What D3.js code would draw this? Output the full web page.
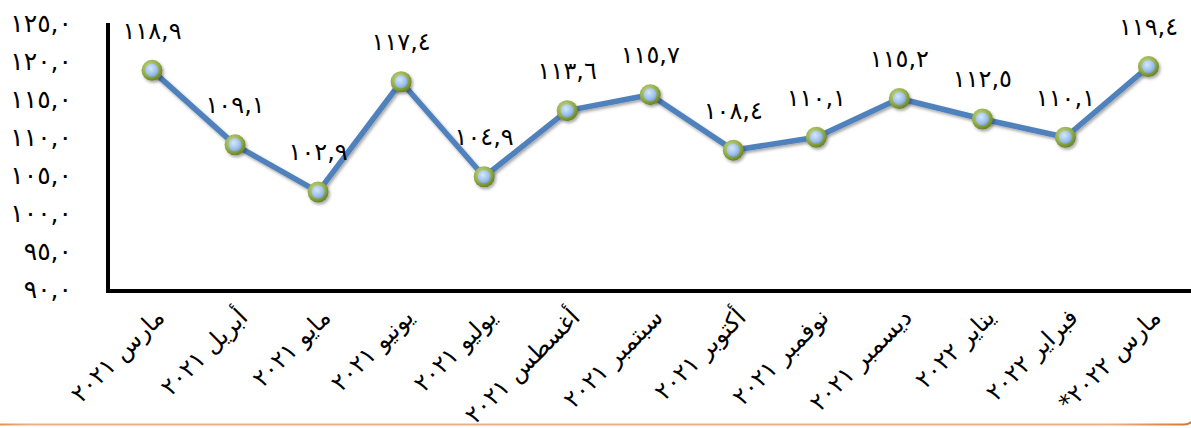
<!DOCTYPE html>
<html>
<head>
<meta charset="utf-8">
<script src="https://cdn.jsdelivr.net/npm/d3@7"></script>
<style>
  html, body { margin: 0; padding: 0; background: #fff; }
  svg { display: block; }
  text { font-family: "DejaVu Sans", sans-serif; fill: #000; }
</style>
</head>
<body>
<svg id="chart" width="1191" height="428"></svg>
<script>
const categories = ["مارس ٢٠٢١", "أبريل ٢٠٢١", "مايو ٢٠٢١", "يونيو ٢٠٢١", "يوليو ٢٠٢١", "أغسطس ٢٠٢١", "سبتمبر ٢٠٢١", "أكتوبر ٢٠٢١", "نوفمبر ٢٠٢١", "ديسمبر ٢٠٢١", "يناير ٢٠٢٢", "فبراير ٢٠٢٢", "مارس ٢٠٢٢*"];
const values = [118.9, 109.1, 102.9, 117.4, 104.9, 113.6, 115.7, 108.4, 110.1, 115.2, 112.5, 110.1, 119.4];
const valueLabels = ["١١٨,٩", "١٠٩,١", "١٠٢,٩", "١١٧,٤", "١٠٤,٩", "١١٣,٦", "١١٥,٧", "١٠٨,٤", "١١٠,١", "١١٥,٢", "١١٢,٥", "١١٠,١", "١١٩,٤"];
const yTicks = [90, 95, 100, 105, 110, 115, 120, 125];
const yTickLabels = ["٩٠,٠", "٩٥,٠", "١٠٠,٠", "١٠٥,٠", "١١٠,٠", "١١٥,٠", "١٢٠,٠", "١٢٥,٠"];

const svg = d3.select("#chart");
const W = 1191, H = 428;
const axisX = 108, axisY = 291;

const x = d3.scalePoint().domain(categories).range([110.5, 1190]).padding(0.5);
const y = d3.scaleLinear().domain([90, 125]).range([290, 24]);

const defs = svg.append("defs");
const shadow = defs.append("filter").attr("id", "shadow").attr("x", "-50%").attr("y", "-50%").attr("width", "200%").attr("height", "200%");
shadow.append("feDropShadow").attr("dx", 1.5).attr("dy", 2).attr("stdDeviation", 1.6).attr("flood-color", "#000").attr("flood-opacity", 0.35);

const ringGrad = defs.append("radialGradient").attr("id", "ring").attr("cx", "40%").attr("cy", "35%").attr("r", "70%");
ringGrad.append("stop").attr("offset", "0%").attr("stop-color", "#c5d98a");
ringGrad.append("stop").attr("offset", "60%").attr("stop-color", "#93ad4a");
ringGrad.append("stop").attr("offset", "100%").attr("stop-color", "#5f7a22");

const coreGrad = defs.append("radialGradient").attr("id", "core").attr("cx", "40%").attr("cy", "35%").attr("r", "75%");
coreGrad.append("stop").attr("offset", "0%").attr("stop-color", "#d6e6fb");
coreGrad.append("stop").attr("offset", "60%").attr("stop-color", "#9fc2ee");
coreGrad.append("stop").attr("offset", "100%").attr("stop-color", "#6f9bd6");

const borderGrad = defs.append("linearGradient").attr("id", "border").attr("x1", "0").attr("x2", "1");
borderGrad.append("stop").attr("offset", "0%").attr("stop-color", "#e07a2a");
borderGrad.append("stop").attr("offset", "4%").attr("stop-color", "#eab08a");
borderGrad.append("stop").attr("offset", "93%").attr("stop-color", "#eab08a");
borderGrad.append("stop").attr("offset", "100%").attr("stop-color", "#d8701e");

svg.append("rect").attr("width", W).attr("height", H).attr("fill", "#fff");

// chart area border (only bottom / bottom-right corner visible)
svg.append("rect")
  .attr("x", -20).attr("y", -20).attr("width", W + 25).attr("height", H + 16.5)
  .attr("rx", 12).attr("fill", "none")
  .attr("stroke", "url(#border)").attr("stroke-width", 2);

// Y axis
const yAxis = d3.axisLeft(y).tickValues(yTicks).tickSize(0).tickPadding(36)
  .tickFormat((d, i) => yTickLabels[i]);
const gy = svg.append("g").attr("transform", `translate(${axisX},0)`).call(yAxis);
gy.select(".domain").remove();
gy.selectAll("text").attr("font-size", 25).attr("dy", "0.3em");

// X axis
const xAxis = d3.axisBottom(x).tickSize(0).tickFormat("");
const gx = svg.append("g").attr("transform", `translate(0,${axisY})`).call(xAxis);
gx.select(".domain").remove();

svg.append("line").attr("x1", axisX).attr("x2", axisX).attr("y1", 23).attr("y2", axisY + 2)
  .attr("stroke", "#000").attr("stroke-width", 4);
svg.append("line").attr("x1", axisX - 2).attr("x2", W).attr("y1", axisY).attr("y2", axisY)
  .attr("stroke", "#000").attr("stroke-width", 4);

// X labels
svg.append("g").selectAll("text").data(categories).join("text")
  .attr("transform", d => `translate(${x(d) + 2},${axisY + 16}) rotate(-45)`)
  .attr("direction", "rtl")
  .attr("text-anchor", "start")
  .attr("font-size", 24)
  .attr("dy", "0.7em")
  .text(d => d);

// line
const line = d3.line().x((d, i) => x(categories[i])).y(d => y(d));
svg.append("path").datum(values)
  .attr("d", line).attr("fill", "none")
  .attr("stroke", "#4f81bd").attr("stroke-width", 5.5)
  .attr("stroke-linejoin", "round")
  .attr("filter", "url(#shadow)");

// markers
const mk = svg.append("g").selectAll("g").data(values).join("g")
  .attr("transform", (d, i) => `translate(${x(categories[i])},${y(d)})`)
  .attr("filter", "url(#shadow)");
mk.append("circle").attr("r", 10.5).attr("fill", "url(#ring)");
mk.append("circle").attr("r", 6.5).attr("fill", "url(#core)");

// value labels
svg.append("g").selectAll("text").data(values).join("text")
  .attr("x", (d, i) => x(categories[i]))
  .attr("y", d => y(d) - 40)
  .attr("dy", "0.35em")
  .attr("text-anchor", "middle")
  .attr("font-size", 24)
  .text((d, i) => valueLabels[i]);
</script>
</body>
</html>
